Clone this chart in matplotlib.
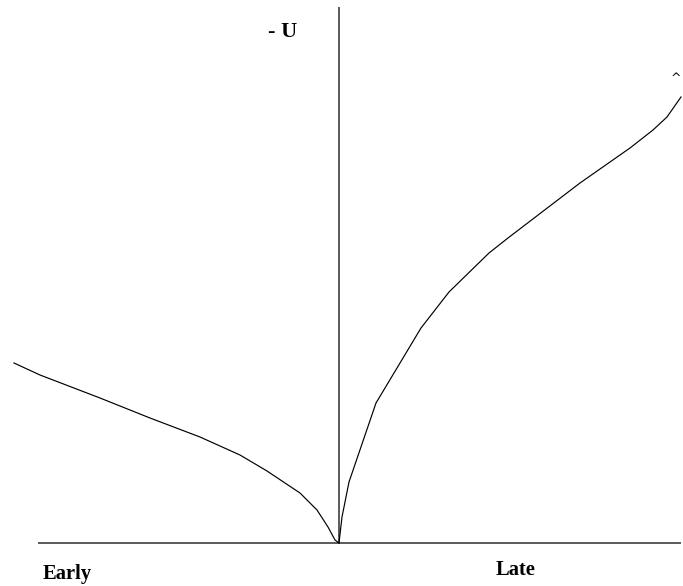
import matplotlib
matplotlib.use("Agg")
import matplotlib.pyplot as plt

# Early side (negative time), values of -U
early_t = [-325, -299, -239, -189, -139, -99, -72, -39, -22, -11, -4, 0]
early_u = [180, 168, 145, 125, 106, 88, 72, 50, 33, 16, 3, 0]
# Late side
late_t = [0, 3, 10, 37, 82, 110, 150, 169, 241, 291, 314, 328, 342]
late_u = [0, 26, 61, 140, 215, 251, 290, 305, 360, 395, 413, 426, 446]

fig = plt.figure(figsize=(6.83, 5.86), dpi=100)
ax = fig.add_axes([0, 0, 1, 1])
ax.set_xlim(-339, 344)
ax.set_ylim(-43, 543)
ax.axis("off")

axis_col = "#5a5a5a"
ax.plot([-301, 342], [0, 0], color=axis_col, lw=1.4, solid_capstyle="butt")
ax.plot([0, 0], [0, 536], color=axis_col, lw=1.4, solid_capstyle="butt")

ax.plot(early_t, early_u, color="black", lw=0.85)
ax.plot(late_t, late_u, color="black", lw=0.85)

font = dict(family=["Liberation Serif", "DejaVu Serif"], fontweight="bold")
ax.text(-56, 511, "- U", ha="center", va="center", fontsize=16, **font)
ax.text(-272, -31, "Early", ha="center", va="center", fontsize=14.8, **font)
ax.text(177, -27, "Late", ha="center", va="center", fontsize=14.8, **font)
ax.text(337, 465, "^", ha="center", va="center", family=["DejaVu Sans"], fontsize=9, color="black")

fig.savefig("out.png", dpi=100)
